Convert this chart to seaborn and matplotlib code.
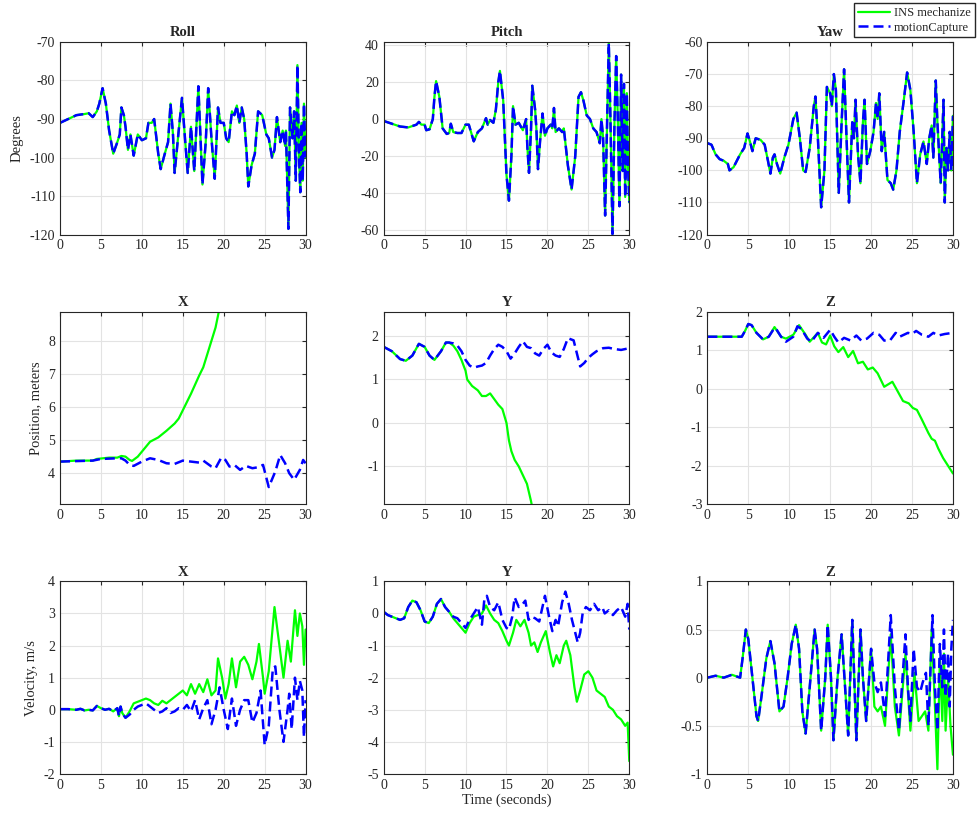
import numpy as np
import seaborn as sns
from matplotlib import pyplot as plt
from matplotlib.lines import Line2D

# ---- attitude (INS and motion capture overlap almost exactly) ----
roll_t = [0, 1, 2, 3, 3.5, 4, 4.5, 4.8, 5.2, 5.6, 6, 6.5, 7, 7.3, 7.5, 7.8, 8.0, 8.3, 8.6, 9.0,
          9.5, 10, 10.5, 10.8, 11.2, 11.5, 12, 12.3, 12.8, 13.2, 13.5, 13.8, 14.0, 14.5, 14.9, 15.3,
          15.6, 16.0, 16.4, 16.9, 17.4, 17.8, 18.1, 18.5, 18.9, 19.3, 19.6, 20.0, 20.3, 20.6, 21.0,
          21.3, 21.6, 21.9, 22.2, 22.5, 22.8, 23.0, 23.4, 23.8, 24.2, 24.7, 25.2, 25.5, 25.9, 26.2,
          26.5, 26.9, 27.2, 27.5, 27.6, 27.9, 28.1, 28.4, 28.6, 28.8, 29.0, 29.2, 29.35, 29.5, 29.65,
          29.8, 30.0]
roll_deg = [-91, -90, -89, -88.7, -88.5, -89.5, -88, -86, -82, -86, -93, -99, -96, -94, -87, -89,
            -92, -98, -94, -99.5, -94, -95.5, -95, -91, -91, -90, -99, -103, -99, -96, -86, -94,
            -104, -93, -84.5, -96, -104, -92, -103.5, -81.5, -107, -96, -82, -95, -105.5, -87, -91,
            -91, -95, -96, -88, -89, -86.5, -91, -87, -90, -99, -107.5, -102, -99, -88, -89, -94,
            -95, -100, -98, -89.5, -96, -93, -97, -93, -118.5, -87, -95, -88, -106, -76, -100, -109,
            -91, -106, -86, -100]

pitch_t = [0, 1, 2, 3, 4, 4.3, 4.6, 5.0, 5.2, 5.6, 6.0, 6.2, 6.4, 6.8, 7.2, 7.7, 8.0, 8.2, 8.5,
           9.0, 9.5, 10.0, 10.4, 11.0, 11.5, 12.0, 12.5, 12.7, 13.0, 13.4, 13.7, 14.0, 14.2, 14.6,
           15.0, 15.3, 15.6, 15.8, 16.1, 16.5, 17.0, 17.4, 17.55, 17.75, 18.0, 18.15, 18.5, 18.65,
           18.85, 19.1, 19.4, 19.7, 20.0, 20.4, 20.6, 20.8, 21.0, 21.4, 21.8, 22.0, 22.5, 22.95,
           23.4, 23.8, 24.1, 24.4, 24.8, 25.2, 25.6, 26.0, 26.4, 26.6, 26.8, 27.05, 27.25, 27.5,
           27.7, 27.95, 28.2, 28.4, 28.6, 28.8, 29.0, 29.2, 29.35, 29.5, 29.7, 29.85, 30.0]
pitch_deg = [-1, -2.5, -4, -4.5, -3, -1.5, -3, -3, -6, -5.5, 0, 12, 20.5, 12, -5, -8, -7.5, -2.5,
             -7, -7.5, -7.5, -3, -3, -12, -7, -5, 0.5, -3, -0.5, -2, 5, 20, 26, 10, -30, -44, -20,
             7, -3, -2, -6, 0, -15, -29, -5, 18, 5, -5, -27, -12, 3, -9, -5, -3, -5, 6, -7, -5, -7,
             -5, -25, -38, -20, 12, 14.5, 10, 2, 0, -5, -7, -13, 0, -10, -52, -10, 41, 0, -62, 0,
             34, 0, -47, 24, -28, 19, -42, 14, -25, -45]

yaw_t = [0, 0.5, 1.0, 1.5, 2.0, 2.5, 2.7, 3.2, 4.0, 4.5, 4.9, 5.2, 5.5, 5.9, 6.5, 7.0, 7.4, 7.7,
         8.0, 8.2, 8.5, 8.9, 9.4, 9.9, 10.5, 10.9, 11.3, 11.7, 12.0, 12.5, 13.0, 13.2, 13.5, 13.9,
         14.3, 14.6, 15.0, 15.2, 15.45, 15.7, 16.05, 16.4, 16.7, 17.0, 17.3, 17.7, 17.9, 18.1,
         18.4, 18.7, 19.0, 19.2, 19.5, 19.9, 20.3, 20.6, 20.8, 21.0, 21.3, 21.6, 22.0, 22.4, 22.7,
         23.1, 23.5, 24.0, 24.4, 24.8, 25.2, 25.6, 26.0, 26.4, 26.8, 27.1, 27.4, 27.6, 27.9, 28.1,
         28.5, 28.85, 29.0, 29.2, 29.4, 29.6, 29.8, 30.0]
yaw_deg = [-91.5, -92, -95, -96.5, -97, -98, -100, -99, -95, -93, -88.5, -91, -94, -90, -90.5, -92,
           -97, -101, -96, -95, -98, -101, -96, -92, -84, -82, -90, -100, -100.5, -93, -80, -77,
           -90, -111.5, -100, -74, -76, -80, -70, -75, -107, -85, -68.5, -90, -110, -85, -90, -78,
           -95, -104, -85, -78, -98, -94, -88, -79, -84, -76, -94, -88, -103, -104, -106, -100,
           -88, -78, -69.5, -75, -88, -104, -95, -91, -98, -90, -86, -96, -72, -85, -104, -78,
           -110, -93, -100, -88, -100, -83]

# ---- position ----
posx_ins_t = [0, 2, 4, 4.5, 6, 7, 7.5, 8.0, 8.5, 8.8, 9.5, 10.5, 11.0, 12.0, 13.0, 14.0, 14.5,
              15.0, 16.0, 17.0, 17.5, 18.0, 18.5, 19.0, 19.5, 20.0]
posx_ins = [4.35, 4.38, 4.38, 4.43, 4.47, 4.47, 4.52, 4.50, 4.40, 4.37, 4.50, 4.80, 4.95, 5.08,
            5.28, 5.50, 5.65, 5.90, 6.40, 6.95, 7.20, 7.60, 8.00, 8.40, 9.00, 9.60]
posx_mc_t = [0, 4, 5, 7, 7.5, 8, 8.5, 9, 10, 11, 12, 13, 14, 15, 16, 17, 17.5, 18.5, 19, 19.7,
             20.2, 20.7, 21.3, 22, 22.7, 23.5, 24.2, 24.8, 25.5, 26.3, 26.9, 27.5, 28.0, 28.6,
             29.3, 29.7, 30]
posx_mc = [4.35, 4.38, 4.43, 4.45, 4.45, 4.38, 4.25, 4.22, 4.35, 4.45, 4.40, 4.30, 4.28, 4.38,
           4.35, 4.32, 4.38, 4.20, 4.15, 4.47, 4.40, 4.20, 4.25, 4.10, 4.22, 4.15, 4.18, 4.25,
           3.58, 4.05, 4.55, 4.30, 4.00, 3.80, 4.10, 4.40, 4.30]

posy_ins_t = [0, 1, 2, 2.7, 3.5, 4.3, 5, 5.6, 6.2, 7, 7.6, 8, 8.5, 9, 9.5, 10, 10.2, 10.8, 11.5,
              12, 12.5, 13, 13.5, 14, 14.5, 15, 15.3, 15.6, 16, 16.5, 17, 17.5, 18, 18.2, 19]
posy_ins = [1.75, 1.65, 1.47, 1.43, 1.55, 1.82, 1.75, 1.55, 1.45, 1.65, 1.85, 1.85, 1.78, 1.65,
            1.45, 1.2, 1.0, 0.85, 0.75, 0.62, 0.62, 0.68, 0.55, 0.42, 0.32, 0.0, -0.4, -0.65,
            -0.85, -1.0, -1.2, -1.4, -1.8, -2.0, -2.6]
posy_mc_t = [0, 1, 2, 2.7, 3.5, 4.3, 5, 5.6, 6.2, 7, 7.6, 8, 8.5, 9, 9.5, 10, 10.5, 11, 11.5, 12,
             12.5, 13, 13.5, 14, 14.5, 15, 15.5, 16, 16.5, 17, 17.5, 18, 18.5, 19, 19.5, 20, 20.5,
             21, 21.5, 22, 22.5, 23.2, 23.6, 24, 24.5, 25, 25.5, 26, 26.8, 27.5, 28.2, 29, 30]
posy_mc = [1.75, 1.65, 1.47, 1.43, 1.55, 1.82, 1.75, 1.55, 1.45, 1.65, 1.85, 1.85, 1.83, 1.78,
           1.65, 1.45, 1.32, 1.27, 1.3, 1.32, 1.38, 1.55, 1.7, 1.8, 1.75, 1.65, 1.48, 1.6, 1.75,
           1.88, 1.75, 1.72, 1.6, 1.55, 1.7, 1.8, 1.62, 1.55, 1.52, 1.7, 1.95, 1.9, 1.6, 1.3, 1.38,
           1.5, 1.58, 1.65, 1.72, 1.73, 1.7, 1.68, 1.72]

posz_ins_t = [0, 4.2, 4.6, 5.0, 5.4, 6.0, 6.8, 7.5, 8.2, 9, 9.6, 10.5, 11.2, 12.0, 12.5, 13.5, 14.0,
              14.5, 15.0, 15.5, 16.0, 16.6, 17.2, 17.8, 18.4, 19.0, 19.6, 20.2, 20.8, 21.6, 22.6,
              23.2, 23.9, 24.6, 25.1, 25.6, 26.2, 27.0, 27.4, 27.8, 28.2, 28.8, 29.4, 30.0]
posz_ins = [1.35, 1.35, 1.5, 1.68, 1.65, 1.45, 1.28, 1.35, 1.6, 1.35, 1.3, 1.4, 1.65, 1.4, 1.22,
            1.45, 1.2, 1.15, 1.38, 1.1, 0.95, 1.08, 0.82, 0.98, 0.66, 0.7, 0.5, 0.55, 0.4, 0.05,
            0.18, -0.05, -0.32, -0.38, -0.5, -0.55, -0.8, -1.15, -1.3, -1.35, -1.55, -1.8, -2.0,
            -2.2]
posz_mc_t = [0, 4.2, 4.6, 5.0, 5.4, 6.0, 6.8, 7.5, 8.2, 8.5, 9, 9.6, 10.5, 11.0, 11.5, 12.2, 12.7,
             13.5, 14.2, 15.0, 15.5, 16.0, 16.7, 17.5, 18.2, 18.8, 19.5, 20.3, 21.0, 21.6, 22.3,
             23.0, 23.5, 24.5, 25.0, 25.5, 26.2, 27, 27.6, 28.2, 29, 30]
posz_mc = [1.35, 1.35, 1.5, 1.68, 1.65, 1.45, 1.28, 1.35, 1.58, 1.52, 1.35, 1.22, 1.35, 1.62,
           1.55, 1.3, 1.22, 1.45, 1.32, 1.53, 1.35, 1.2, 1.32, 1.25, 1.38, 1.25, 1.3, 1.45, 1.4,
           1.25, 1.25, 1.45, 1.35, 1.45, 1.42, 1.5, 1.4, 1.35, 1.45, 1.38, 1.42, 1.45]

# ---- velocity ----
velx_mc_t = [0, 1, 2, 2.5, 3, 3.5, 4, 4.5, 5, 5.5, 6, 6.5, 7, 7.2, 7.4, 7.6, 8.0, 8.5, 9, 9.5, 10,
             10.5, 11, 11.5, 12, 12.5, 13, 13.5, 14, 14.5, 15, 15.5, 16, 16.5, 17, 17.5, 18.0,
             18.5, 19.0, 19.5, 20.0, 20.5, 21.0, 21.5, 22.0, 22.5, 23.0, 23.5, 24.0, 24.5, 25.0,
             25.5, 26.0, 26.3, 26.8, 27.3, 27.8, 28.0, 28.3, 28.7, 29.0, 29.3, 29.6, 29.8, 30]
velx_mc = [0.02, 0.02, 0.0, 0.03, -0.02, 0.0, -0.02, 0.12, 0.05, 0.0, 0.03, -0.05, 0.05, -0.2,
           0.1, -0.1, -0.25, -0.15, 0.0, 0.1, 0.15, 0.2, 0.1, 0.0, -0.1, -0.05, 0.05, -0.1, -0.05,
           0.05, 0.0, 0.15, -0.05, 0.3, -0.3, 0.05, 0.3, -0.45, 0.0, 0.7, 0.0, -0.6, 0.35, -0.5,
           0.0, 0.3, 0.3, -0.4, -0.1, 0.6, -1.1, -0.5, 1.3, 1.35, 0.0, -1.0, 0.0, 0.5, -0.6, 1.0,
           0.3, 0.9, 0.6, -0.85, 0.3]
velx_ins_t = [0, 1, 2, 2.5, 3, 3.5, 4, 4.5, 5, 5.5, 6, 6.5, 7, 7.2, 7.4, 7.6, 8.0, 8.5, 9, 9.5,
              10, 10.5, 11, 11.5, 12, 12.5, 13, 13.5, 14, 14.5, 15, 15.5, 16, 16.5, 17, 17.5, 18,
              18.5, 19, 19.3, 19.8, 20.2, 20.6, 21.0, 21.5, 22.0, 22.5, 23.0, 23.5, 24.0, 24.3,
              24.8, 25.0, 25.5, 26.2, 26.8, 27.3, 27.8, 28.2, 28.7, 29.0, 29.3, 29.6, 29.8, 30]
velx_ins = [0.02, 0.02, 0.0, 0.03, -0.02, 0.0, -0.02, 0.12, 0.05, 0.0, 0.03, -0.05, 0.05, -0.2,
            0.1, -0.1, -0.25, -0.05, 0.2, 0.25, 0.3, 0.35, 0.3, 0.2, 0.15, 0.28, 0.2, 0.3, 0.4,
            0.5, 0.6, 0.45, 0.8, 0.5, 0.8, 0.55, 0.95, 0.45, 0.6, 1.6, 1.0, 0.35, 0.8, 1.6, 0.7,
            1.5, 1.65, 1.4, 0.95, 1.5, 2.05, 1.0, 0.5, 1.2, 3.2, 2.0, 1.0, 2.15, 1.5, 3.1, 2.3,
            3.0, 2.6, 1.4, 2.5]

vely_mc_t = [0, 0.5, 1, 1.5, 2, 2.5, 3, 3.5, 4, 4.5, 5, 5.5, 6, 6.5, 7, 7.5, 8, 8.5, 9, 9.5, 10,
             10.5, 11, 11.5, 12, 12.3, 12.6, 13, 13.5, 14, 14.5, 15, 15.3, 15.7, 16, 16.5, 17,
             17.3, 17.7, 18, 18.5, 19, 19.7, 20.2, 20.6, 21, 21.3, 21.8, 22.2, 22.6, 23.0, 23.4,
             23.7, 24, 24.3, 24.7, 25.2, 25.7, 26.2, 26.7, 27, 27.5, 28, 28.5, 29, 29.5, 29.8, 30]
vely_mc = [0.05, -0.05, -0.1, -0.15, -0.2, -0.15, 0.2, 0.4, 0.35, 0.1, -0.25, -0.3, -0.1, 0.3,
           0.45, 0.2, 0.05, -0.1, -0.15, -0.3, -0.45, -0.2, 0.0, 0.2, -0.35, 0.45, 0.55, 0.2, 0.1,
           0.35, -0.2, -0.45, -0.5, -0.1, 0.5, 0.2, 0.3, 0.4, -0.2, -0.1, -0.15, -0.25, 0.55,
           -0.1, -0.55, -0.2, -0.4, 0.35, 0.68, 0.3, -0.2, -0.6, -0.9, -0.6, 0.0, 0.2, 0.1, 0.3,
           0.1, 0.2, 0.0, 0.1, -0.05, 0.1, 0.2, -0.1, 0.3, -0.5]
vely_ins_t = [0, 0.5, 1, 1.5, 2, 2.5, 3, 3.5, 4, 4.5, 5, 5.5, 6, 6.5, 7, 7.5, 8, 8.5, 9, 9.5, 10,
              10.5, 11, 11.5, 12, 12.5, 13, 13.5, 14, 14.5, 15, 15.3, 15.8, 16.2, 16.7, 17.2,
              17.7, 18.0, 18.4, 18.8, 19.2, 19.8, 20.3, 20.7, 21.1, 21.5, 22.0, 22.3, 22.8, 23.3,
              23.6, 24.0, 24.5, 25.0, 25.5, 26.0, 26.5, 27.0, 27.5, 28.0, 28.5, 29.0, 29.5, 29.8,
              30]
vely_ins = [0.05, -0.05, -0.1, -0.15, -0.2, -0.15, 0.2, 0.4, 0.35, 0.1, -0.25, -0.3, -0.1, 0.3,
            0.45, 0.2, 0.05, -0.15, -0.3, -0.45, -0.6, -0.3, -0.1, -0.05, 0.0, 0.25, 0.0, -0.2,
            -0.3, -0.55, -0.85, -1.0, -0.6, -0.2, -0.4, -0.2, -0.6, -1.0, -0.9, -1.2, -0.9, -0.55,
            -1.2, -1.65, -1.3, -1.55, -1.0, -0.85, -1.3, -2.3, -2.75, -2.4, -1.9, -1.8, -2.0,
            -2.4, -2.5, -2.6, -2.9, -3.0, -3.2, -3.3, -3.5, -3.4, -4.6]

velz_common_t = [0, 1, 2, 3, 4, 4.3, 4.7, 5.0, 5.5, 6, 6.2, 6.6, 7.2, 7.7, 8.2, 8.8, 9.3, 9.8,
                 10.3, 10.8, 11.2, 11.6, 12.0, 12.5, 13.1, 13.4, 13.9, 14.4, 14.7, 15.1, 15.4,
                 15.9, 16.4, 16.9, 17.2, 17.7, 18.2, 18.7, 19.0, 19.4, 20.0]
velz_common = [0.0, 0.02, 0.0, 0.03, 0.0, 0.2, 0.5, 0.4, 0.0, -0.4, -0.45, -0.2, 0.2, 0.38, 0.15,
               -0.35, -0.3, 0.0, 0.35, 0.55, 0.3, -0.35, -0.58, -0.1, 0.5, 0.3, -0.55, 0.0, 0.55,
               0.0, -0.65, 0.0, 0.45, -0.2, -0.6, 0.6, -0.65, 0.5, 0.0, -0.45, 0.3]
velz_mc_t = velz_common_t + [20.4, 20.8, 21.2, 21.7, 22.4, 22.9, 23.4, 24.2, 24.5, 24.8, 25.2,
                             25.6, 26.0, 26.3, 26.7, 27.0, 27.5, 27.8, 28.1, 28.4, 28.7, 28.9,
                             29.1, 29.4, 29.6, 29.8, 30]
velz_mc = velz_common + [-0.05, -0.15, -0.05, -0.4, 0.65, -0.1, -0.55, 0.45, -0.1, -0.45, 0.3,
                         -0.1, -0.15, -0.05, 0.05, -0.5, 0.65, -0.1, -0.55, 0.35, -0.1, 0.5, -0.2,
                         0.25, -0.3, 0.3, 0.6]
velz_ins_t = velz_common_t + [20.4, 20.8, 21.2, 21.7, 22.4, 22.9, 23.4, 24.2, 24.8, 25.3, 25.8,
                              26.2, 26.6, 27.0, 27.4, 27.8, 28.1, 28.4, 28.7, 28.9, 29.1, 29.4,
                              29.7, 30]
velz_ins = velz_common + [-0.3, -0.35, -0.3, -0.5, 0.45, -0.3, -0.6, 0.25, -0.55, 0.05, -0.45,
                          -0.4, -0.35, -0.55, 0.5, -0.3, -0.95, 0.2, -0.45, 0.25, -0.55, 0.0,
                          -0.5, -0.8]

GREEN = "#00ff00"
BLUE = "#0000ff"

sns.set_style("whitegrid", {"grid.color": "#e3e3e3", "axes.edgecolor": "#262626",
                            "xtick.direction": "in", "ytick.direction": "in"})
plt.rcParams["font.family"] = ["Liberation Serif", "DejaVu Serif"]
plt.rcParams["font.size"] = 10

fig, axes = plt.subplots(3, 3, figsize=(9.79, 8.18), dpi=100)
fig.subplots_adjust(left=0.0613, right=0.9734, top=0.9487, bottom=0.0538,
                    wspace=0.318, hspace=0.40)

panels = [
    ("Roll", roll_t, roll_deg, roll_t, roll_deg, (-120, -70), np.arange(-120, -69, 10)),
    ("Pitch", pitch_t, pitch_deg, pitch_t, pitch_deg, (-62.3, 41.6), np.arange(-60, 41, 20)),
    ("Yaw", yaw_t, yaw_deg, yaw_t, yaw_deg, (-120, -60), np.arange(-120, -59, 10)),
    ("X", posx_ins_t, posx_ins, posx_mc_t, posx_mc, (3.06, 8.88), np.arange(4, 9, 1)),
    ("Y", posy_ins_t, posy_ins, posy_mc_t, posy_mc, (-1.87, 2.56), np.arange(-1, 3, 1)),
    ("Z", posz_ins_t, posz_ins, posz_mc_t, posz_mc, (-3, 2), np.arange(-3, 3, 1)),
    ("X", velx_ins_t, velx_ins, velx_mc_t, velx_mc, (-2, 4), np.arange(-2, 5, 1)),
    ("Y", vely_ins_t, vely_ins, vely_mc_t, vely_mc, (-5, 1), np.arange(-5, 2, 1)),
    ("Z", velz_ins_t, velz_ins, velz_mc_t, velz_mc, (-1, 1), np.arange(-1, 1.01, 0.5)),
]

for ax, (title, t1, y1, t2, y2, ylim, yticks) in zip(axes.flat, panels):
    sns.lineplot(x=t1, y=y1, ax=ax, color=GREEN, linewidth=1.6, estimator=None, sort=False)
    sns.lineplot(x=t2, y=y2, ax=ax, color=BLUE, linewidth=1.8, linestyle=(0, (4, 2)),
                 estimator=None, sort=False)
    ax.set_xlim(0, 30)
    ax.set_ylim(*ylim)
    ax.set_xticks(np.arange(0, 31, 5))
    ax.set_yticks(yticks)
    ax.set_yticklabels([f"{v:g}" for v in yticks])
    ax.set_title(title, fontweight="bold", fontsize=10.5, pad=4)
    ax.tick_params(labelsize=10, length=3, top=True, right=True, colors="#262626")
    for s in ax.spines.values():
        s.set_linewidth(0.8)

axes[0, 0].set_ylabel("Degrees", fontsize=10.5)
axes[1, 0].set_ylabel("Position, meters", fontsize=10.5)
axes[2, 0].set_ylabel("Velocity, m/s", fontsize=10.5)
axes[2, 1].set_xlabel("Time (seconds)", fontsize=10.5, labelpad=1)

handles = [Line2D([], [], color=GREEN, linewidth=1.6),
           Line2D([], [], color=BLUE, linewidth=1.8, linestyle=(0, (4, 2)))]
fig.legend(handles, ["INS mechanize", "motionCapture"], loc="upper right",
           bbox_to_anchor=(0.998, 0.999), fontsize=9, frameon=True, fancybox=False,
           edgecolor="#262626", framealpha=1, borderpad=0.3, handlelength=2.6,
           handletextpad=0.3, labelspacing=0.2, borderaxespad=0.2)

plt.savefig("out.png", dpi=100)
